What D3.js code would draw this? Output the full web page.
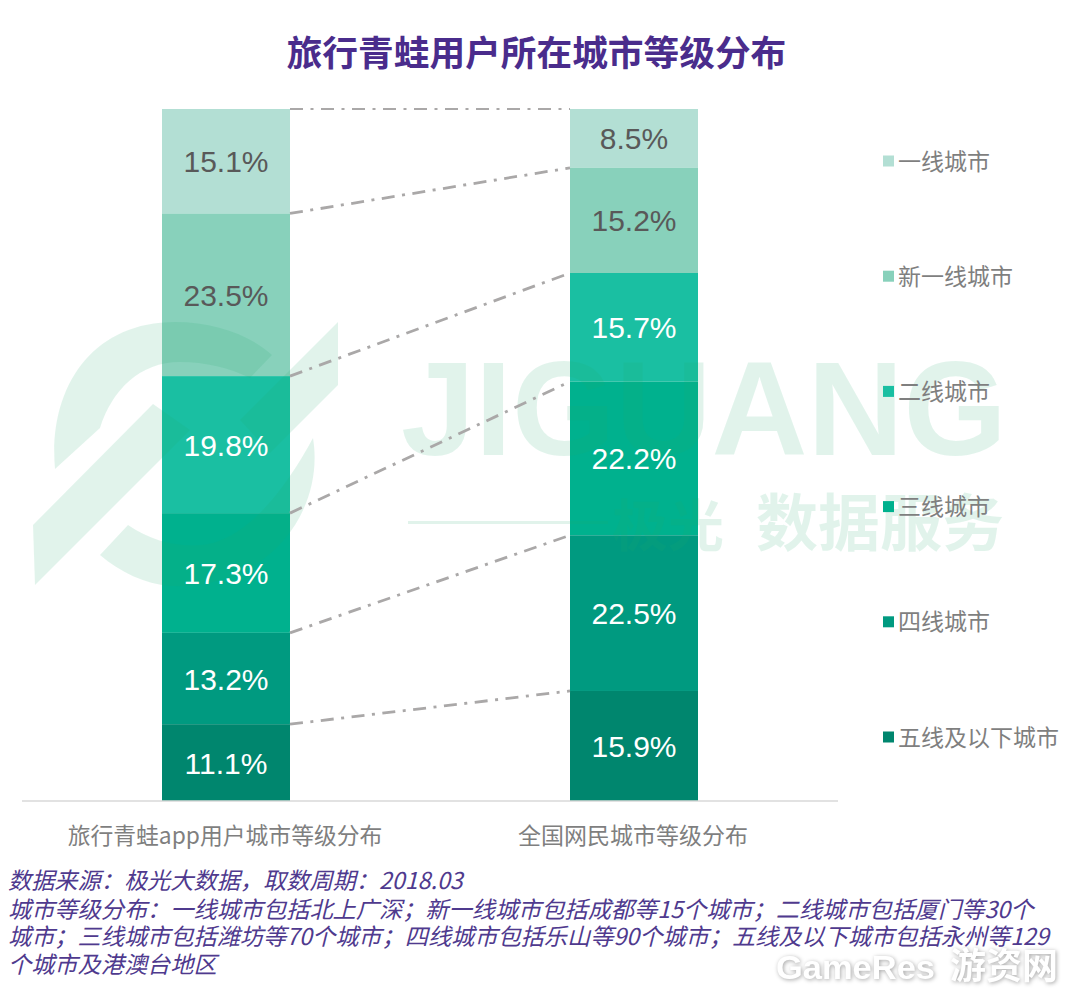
<!DOCTYPE html>
<html><head><meta charset="utf-8">
<script src="https://cdn.jsdelivr.net/npm/d3@7/dist/d3.min.js"></script>
<style>
html,body{margin:0;padding:0;background:#fff;overflow:hidden}
text{font-family:"Noto Sans CJK SC","Noto Sans",sans-serif}
.num{font-family:"Liberation Sans",Arial,sans-serif}
</style></head><body><svg id="c" width="1080" height="999"></svg>
<script>
const titleText="旅行青蛙用户所在城市等级分布";
const categories=["旅行青蛙app用户城市等级分布","全国网民城市等级分布"];
const tiers=["一线城市","新一线城市","二线城市","三线城市","四线城市","五线及以下城市"];
const appValues=[15.1,23.5,19.8,17.3,13.2,11.1];
const nationalValues=[8.5,15.2,15.7,22.2,22.5,15.9];
const tierColors=["#b3dfd4","#88d1bb","#1abfa2","#00b18e","#009a80","#00866e"];
const labelColors=["#595959","#595959","#fff","#fff","#fff","#fff"];
const footerLines=["数据来源：极光大数据，取数周期：2018.03",
"城市等级分布：一线城市包括北上广深；新一线城市包括成都等15个城市；二线城市包括厦门等30个",
"城市；三线城市包括潍坊等70个城市；四线城市包括乐山等90个城市；五线及以下城市包括永州等129",
"个城市及港澳台地区"];

const svg=d3.select("#c");
const y=d3.scaleLinear().domain([0,100]).range([801,109]);
const bw=128;
const xPos=d3.scaleOrdinal().domain(categories).range([162,570]);

const stack=vals=>{let top=100;return vals.map((v,i)=>{const s={i,v,y0:top,y1:top-v};top-=v;return s;});};
const series=[appValues,nationalValues].map(stack);

// bars
categories.forEach((c,ci)=>{
  svg.append("g").selectAll("rect").data(series[ci]).join("rect")
   .attr("x",xPos(c)).attr("width",bw)
   .attr("y",d=>y(d.y0)).attr("height",d=>y(d.y1)-y(d.y0))
   .attr("fill",d=>tierColors[d.i]);
});

// axis line
svg.append("line").attr("x1",22).attr("x2",838).attr("y1",801).attr("y2",801)
  .attr("stroke","#d9d9d9").attr("stroke-width",1.5);

// watermark
const wm=svg.append("g").attr("fill","#20aa6d").attr("opacity",.13);
wm.append("path").attr("d","M55 469 C48 390 90 322 175 322 C215 322 250 335 272 355 L250 378 C230 368 205 362 180 362 C140 362 112 390 100 428Z");
wm.append("path").attr("d","M33 525 L153 404 L190 430 L35 585Z");
wm.append("path").attr("d","M338 322 L338 385 L270 453 L240 420Z");
wm.append("path").attr("d","M313 438 C325 510 270 590 170 586 C145 584 120 572 100 555 L128 525 C150 540 175 547 200 545 C245 542 285 490 313 438Z");
wm.append("text").attr("x",401).attr("y",455).attr("textLength",606).attr("lengthAdjust","spacingAndGlyphs")
  .style("font-family","Liberation Sans").attr("font-weight",700).attr("font-size",134).text("JIGUANG");
wm.append("rect").attr("x",408).attr("y",521).attr("width",200).attr("height",3);
wm.append("text").attr("x",612).attr("y",546).attr("font-weight",700).attr("font-size",56).text("极光");
wm.append("text").attr("x",756).attr("y",546).attr("font-weight",700).attr("font-size",62).text("数据服务");

// connectors between matching tier boundaries
const links=series[0].map((d,i)=>({a:d.y0,b:series[1][i].y0}));
svg.append("g").selectAll("line").data(links).join("line")
  .attr("x1",xPos(categories[0])+bw).attr("x2",xPos(categories[1]))
  .attr("y1",d=>y(d.a)).attr("y2",d=>y(d.b))
  .attr("stroke","#aaa8a8").attr("stroke-width",(d,i)=>i?2.8:2.2)
  .attr("stroke-dasharray","13 7.5 3 7.5");

// value labels
categories.forEach((c,ci)=>{
  svg.append("g").selectAll("text").data(series[ci]).join("text")
   .attr("class","num").attr("x",xPos(c)+bw/2)
   .attr("y",d=>(y(d.y0)+y(d.y1))/2+11)
   .attr("text-anchor","middle").attr("font-size",30)
   .attr("fill",d=>labelColors[d.i]).text(d=>d.v.toFixed(1)+"%");
  svg.append("text").attr("x",xPos(c)+bw/2-1).attr("y",844)
   .attr("text-anchor","middle").attr("font-size",ci?23:22.8).attr("fill","#7f7f7f").text(c);
});

// legend
const ly=d3.scalePoint().domain(tiers).range([161,737]);
const lg=svg.append("g").selectAll("g").data(tiers).join("g")
  .attr("transform",d=>`translate(883,${ly(d)})`);
lg.append("rect").attr("y",-5.5).attr("width",11).attr("height",11)
  .attr("fill",(d,i)=>tierColors[i]);
lg.append("text").attr("x",15).attr("y",8.5).attr("font-size",23).attr("fill","#7f7f7f").text(d=>d);

// title
svg.append("text").attr("x",536.5).attr("y",66).attr("text-anchor","middle")
  .attr("font-size",35.7).attr("font-weight",700).attr("fill","#4a2c8c").text(titleText);

// footer
const fy=[889,918,945,973];
svg.append("g").selectAll("text").data(footerLines).join("text")
  .attr("x",8).attr("y",(d,i)=>fy[i]).attr("font-size",23.2)
  .attr("font-style","italic").attr("fill","#4f3a8e").text(d=>d);

// source stamp
const shadow="drop-shadow(1px 1px 2px rgba(0,0,0,.35))";
svg.append("text").attr("x",776).attr("y",979).attr("textLength",159).attr("lengthAdjust","spacingAndGlyphs")
  .attr("font-size",33).attr("font-weight",700).attr("fill","#fff").style("font-family","Liberation Sans")
  .style("filter",shadow).text("GameRes");
svg.append("text").attr("x",950).attr("y",979).attr("font-size",36).attr("font-weight",700)
  .attr("fill","#fff").style("filter",shadow).text("游资网");
</script></body></html>
